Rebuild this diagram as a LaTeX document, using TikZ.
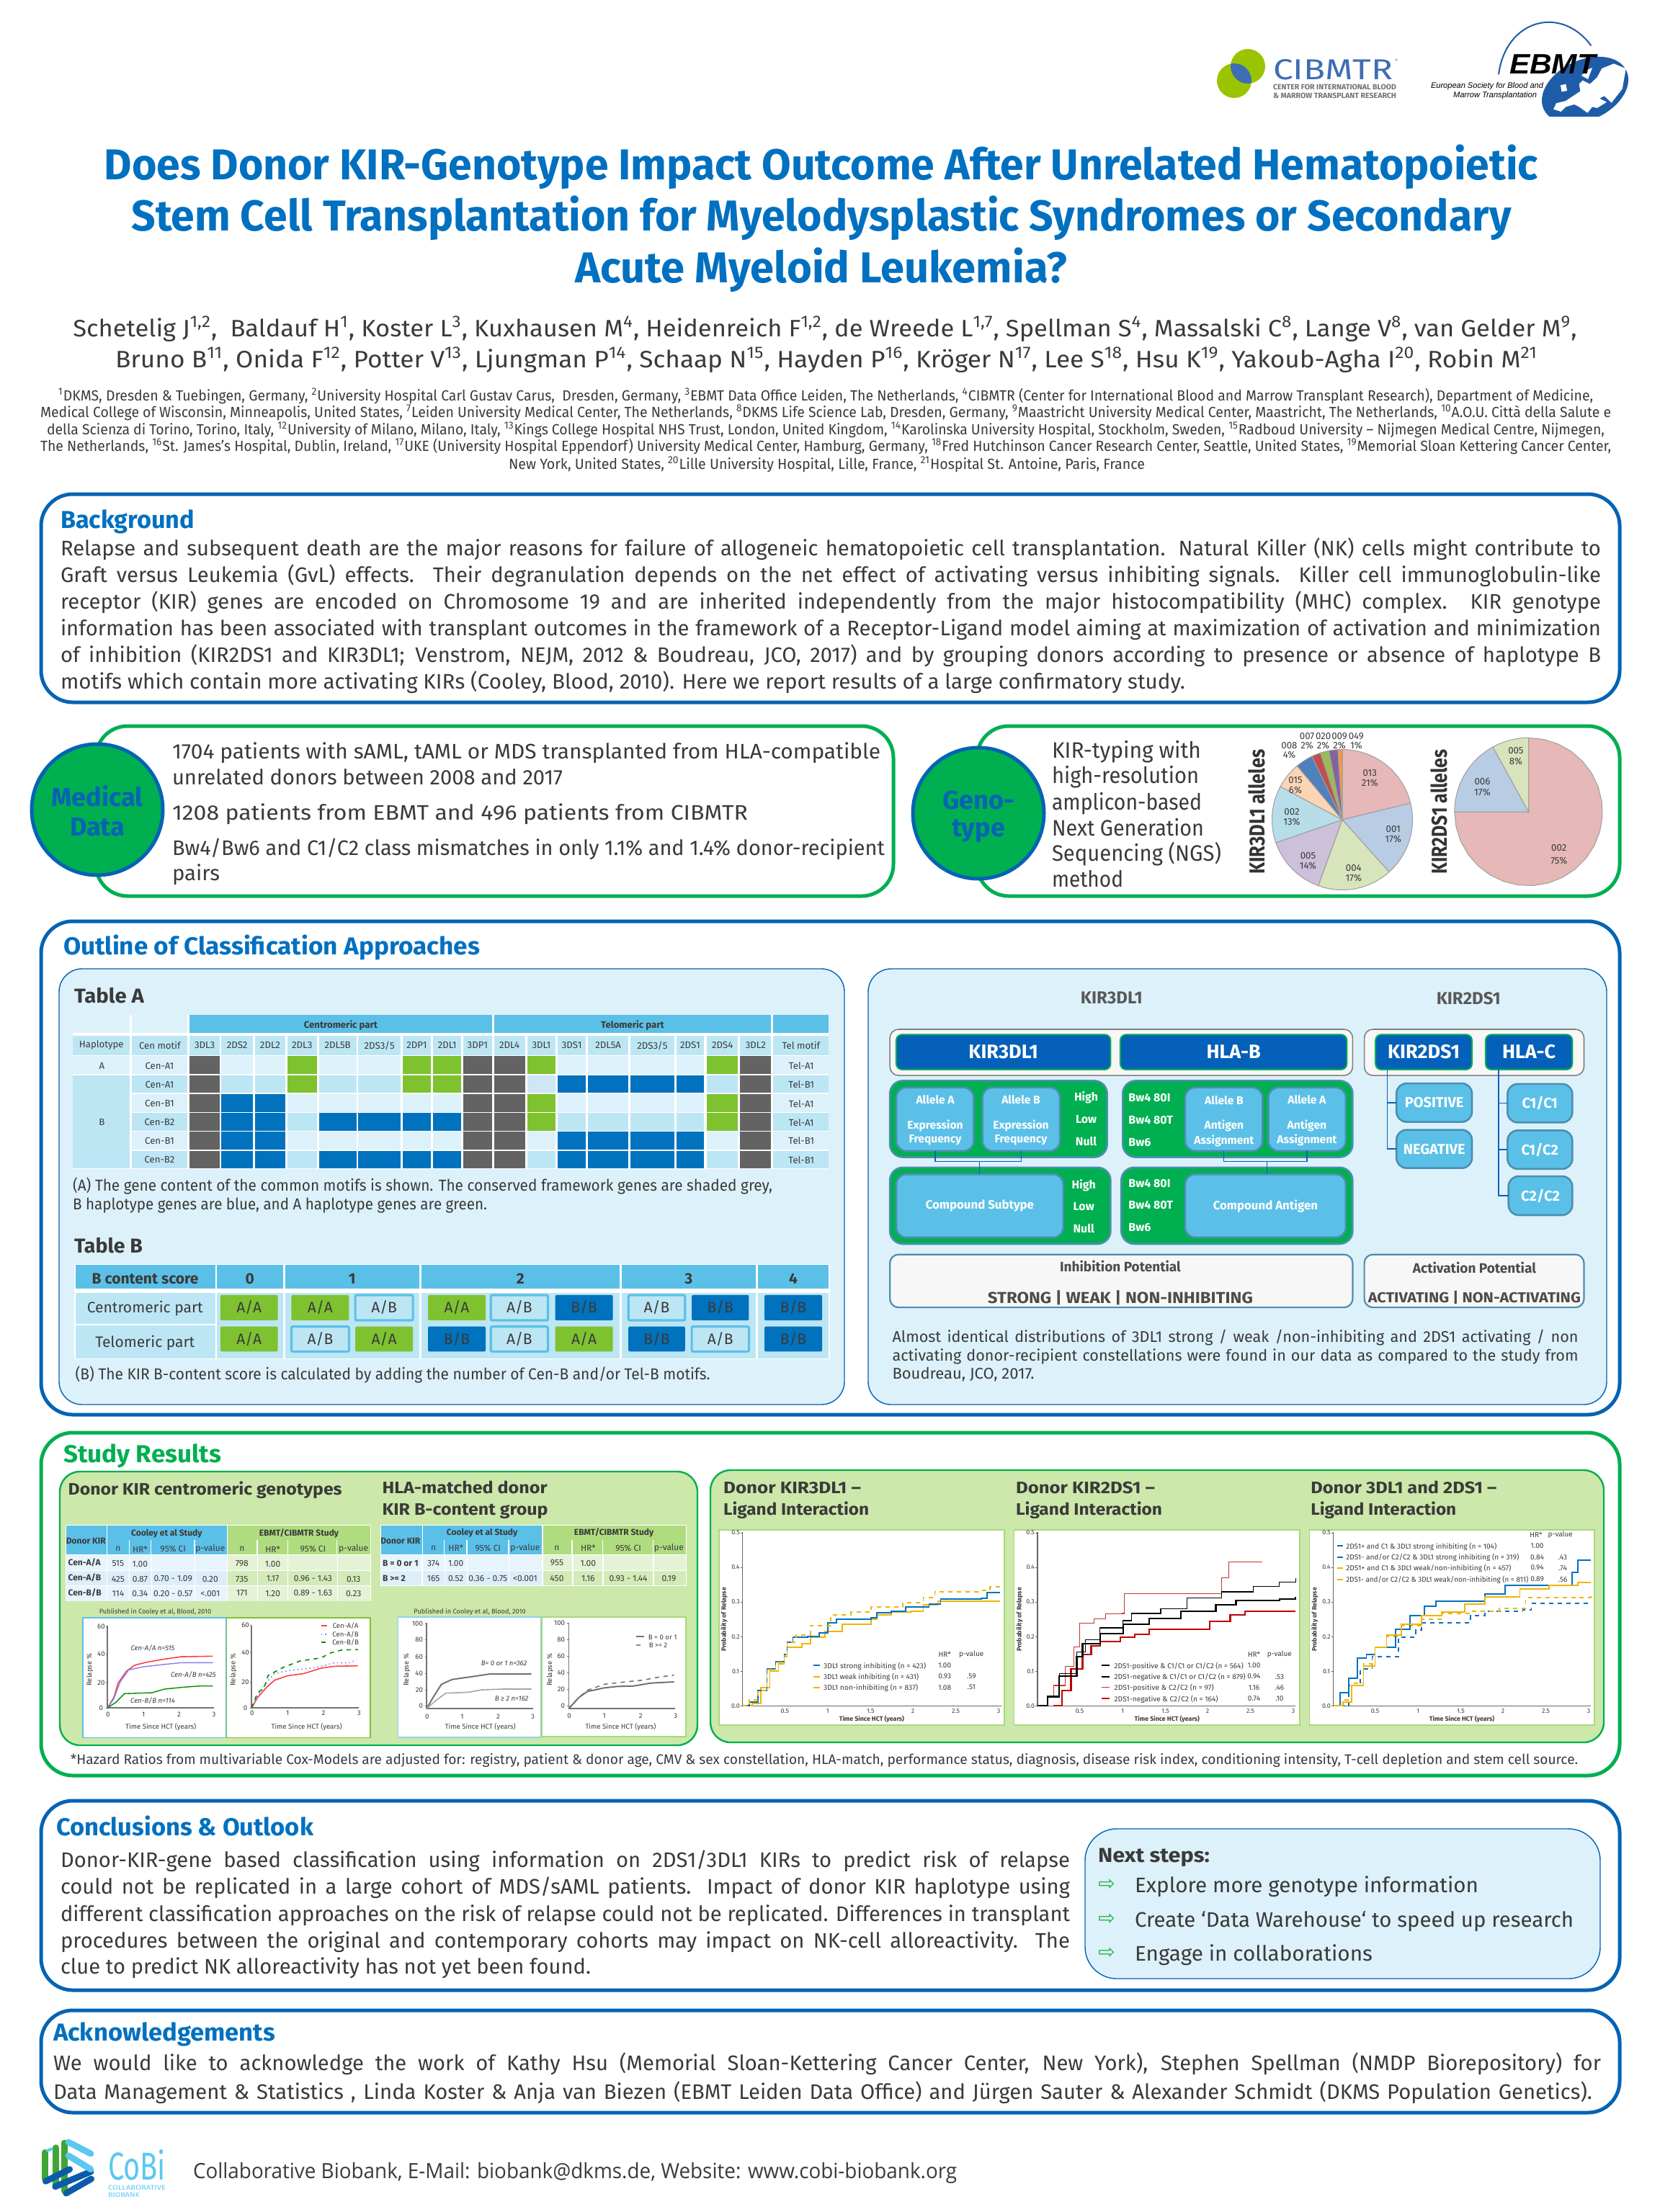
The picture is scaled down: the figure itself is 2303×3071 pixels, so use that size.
\documentclass[tikz,border=0pt]{standalone}
\usepackage{fontspec}
\setmainfont{Fira Sans}
\newfontfamily\ofont{Open Sans}
\newfontfamily\lfont{Liberation Sans}
\newfontfamily\dfont{DejaVu Sans}
\usetikzlibrary{fit}
\definecolor{frameblue}{HTML}{0563B5}
\definecolor{tblue}{HTML}{0070C0}
\definecolor{ink}{HTML}{3A3A3A}
\definecolor{fgreen}{HTML}{00AF50}
\definecolor{panel}{HTML}{DDF1FA}
\definecolor{hdr}{HTML}{5BC0E8}
\definecolor{band}{HTML}{BDE6F5}
\definecolor{kG}{HTML}{636363}
\definecolor{kg}{HTML}{7FC230}
\definecolor{kb}{HTML}{0072BE}
\definecolor{kP}{HTML}{CFE6F4}
\definecolor{deep}{HTML}{0460B8}
\definecolor{edge}{HTML}{4A8FB0}
\definecolor{offw}{HTML}{F7F7F7}
\definecolor{study}{HTML}{CCE8AA}
\definecolor{ghdr}{HTML}{B0DC80}
\definecolor{cl1}{HTML}{E8F4FC}
\definecolor{cl2}{HTML}{DCEFF9}
\definecolor{gl1}{HTML}{E5F2D5}
\definecolor{gl2}{HTML}{D3EBB8}
\definecolor{plotedge}{HTML}{A8D878}
\definecolor{cvblue}{HTML}{0070C0}
\definecolor{cvyel}{HTML}{F0B400}
\definecolor{cvred}{HTML}{C0392B}
\definecolor{cvdred}{HTML}{C00000}
\definecolor{lav}{HTML}{8080F0}
\definecolor{logoblue}{HTML}{3F6DB5}
\definecolor{logogreen}{HTML}{9BC400}
\definecolor{ebmtblue}{HTML}{1F5CA8}
\definecolor{cobilight}{HTML}{5BC8F0}
\definecolor{cobigreen}{HTML}{3FA535}
\definecolor{cobidark}{HTML}{0A5CAB}
\definecolor{pa}{HTML}{E6B8B7}
\definecolor{pb}{HTML}{B8CCE4}
\definecolor{pc}{HTML}{D8E4BC}
\definecolor{pd}{HTML}{CCC0DA}
\definecolor{pe}{HTML}{B7DEE8}
\definecolor{pf}{HTML}{FCD5B4}
\definecolor{pg}{HTML}{4F81BD}
\definecolor{ph}{HTML}{C0504D}
\definecolor{pi}{HTML}{9BBB59}
\definecolor{pj}{HTML}{8064A2}
\definecolor{pk}{HTML}{F79646}
\newcount\nn
\newsavebox\fitbox
\newdimen\fitw
\newcommand\su[1]{\textsuperscript{#1}}
\newcommand\fitline[2]{\fitw=#1\relax\sbox\fitbox{#2}\resizebox{\fitw}{\height}{\usebox\fitbox}}
\newcommand\justline[2]{\fitw=#1\relax\sbox\fitbox{#2}\ifdim\wd\fitbox>\fitw\resizebox{\fitw}{\height}{\usebox\fitbox}\else\hbox to \fitw{#2}\fi}
\newcommand\TX[5][]{\global\advance\nn by 1 \node[txt,#1] (t\the\nn) at (#2,#3) {\fontsize{#4}{#4}\selectfont #5};}
\newcommand\FW[6][]{\global\advance\nn by 1 \node[txt,anchor=base west,#1] (t\the\nn) at (#2,#3) {\fontsize{#4}{#4}\selectfont\fitline{\dimexpr #5pt/2\relax}{#6}};}
\newcommand\JL[6][]{\global\advance\nn by 1 \node[txt,anchor=base west,#1] (t\the\nn) at (#2,#3) {\fontsize{#4}{#4}\selectfont\justline{\dimexpr #5pt/2\relax}{#6}};}
\newcommand\BX[7][]{\coordinate (#2-a) at (#3,#4); \coordinate (#2-b) at (#5,#6); \node[fit=(#2-a)(#2-b),inner sep=0pt,outer sep=0pt,#1] (#2) {}; \node[inner sep=0pt,outer sep=0pt,text=white,font=\bfseries] (#2-t) at (#2.center) {#7};}
\newcommand\PIE[6]{\path[fill=#6,pieline] (#1,#2) -- plot[domain=#4:#5,samples=24] ({#1+#3*cos(\x)},{#2+#3*sin(\x)}) -- cycle;}
\newcommand\fs[1]{\fontsize{#1}{#1}\selectfont}
\newcommand\CURVE[2]{\draw[#1] plot[const plot] coordinates {#2};}
\tikzset{
 txt/.style={inner sep=0pt,outer sep=0pt,text=ink,anchor=center},
 mainframe/.style={draw=frameblue,line width=2.5pt,rounded corners=22pt,fill=white},
 greenframe/.style={draw=fgreen,line width=2.5pt,rounded corners=22pt,fill=white},
 pan/.style={draw=frameblue,line width=.7pt,rounded corners=16pt,fill=panel},
 disc/.style={draw=frameblue,line width=2.5pt,fill=fgreen},
 pieline/.style={draw=black!38,line width=.5pt},
 headbox/.style={draw=fgreen,line width=1pt,fill=deep,rounded corners=4pt},
 whitebar/.style={draw=black!50,line width=.8pt,fill=offw,rounded corners=6pt},
 gbox/.style={draw=edge,line width=1.3pt,fill=fgreen,rounded corners=9pt},
 lbox/.style={draw=edge,line width=1.3pt,fill=hdr,rounded corners=7pt},
 potbox/.style={draw=edge,line width=1.1pt,fill=offw,rounded corners=6pt},
 conn/.style={draw=frameblue,line width=.8pt},
 chipA/.style={fill=kg,rounded corners=1pt},
 chipB/.style={fill=kb,rounded corners=1pt},
 chipM/.style={draw=hdr,line width=1.6pt,fill=band,rounded corners=1pt},
 plotbox/.style={draw=plotedge,line width=.8pt,fill=white},
 axisline/.style={draw=black!60,line width=.5pt},
 thinc/.style={line width=.6pt},
 thickc/.style={line width=1.1pt},
 kthin/.style={black,thinc},
 kthick/.style={black,thickc},
 rthin/.style={cvred,thinc},
 rthick/.style={cvdred,thickc},
}
\begin{document}
\begin{tikzpicture}[x=0.5pt,y=-0.5pt]
\useasboundingbox (0,0) rectangle (2303,3071);
\fill[white] (0,0) rectangle (2303,3071);
%% ---------- CIBMTR logo
\begin{scope}
\fill[logogreen] (1732,92) circle[radius=12pt];
\fill[logogreen] (1713,112) circle[radius=12pt];
\begin{scope}
\clip (1732,92) circle[radius=12pt];
\fill[logoblue] (1713,112) circle[radius=12pt];
\end{scope}
\end{scope}
\FW[text=logoblue]{1767}{111}{20}{166}{CIBMTR}
\TX[text=logoblue]{1938}{84}{3}{®}
\FW[text=black!55]{1767}{125}{5.2}{171}{\bfseries CENTER FOR INTERNATIONAL BLOOD}
\FW[text=black!55]{1767}{137}{5.2}{171}{\bfseries \& MARROW TRANSPLANT RESEARCH}
%% ---------- EBMT logo
\begin{scope}[shift={(2060,20)}]
\begin{scope}[x=0.16667pt,y=-0.16667pt]
\draw[ebmtblue,line width=1pt] (60,250) .. controls (90,20) and (320,-40) .. (445,130);
\clip (200,150) rectangle (620,425);
\fill[ebmtblue] plot[domain=0:360,samples=60] ({420+190*cos(\x)*cos(25)+125*sin(\x)*sin(25)},{315-190*cos(\x)*sin(25)+125*sin(\x)*cos(25)}) -- cycle;
\fill[white] (590,226) -- (540,205) -- (490,225) -- (470,262) -- (440,290) -- (410,275) -- (395,290) -- (400,320) -- (370,340) -- (340,360) -- (300,370) -- (288,395) -- (320,405) -- (340,385) -- (375,375) -- (395,385) -- (430,410) -- (450,385) -- (470,390) -- (510,365) -- (480,350) -- (500,340) -- (530,368) -- (575,310) -- cycle;
\fill[white] (425,232) -- (450,222) -- (432,270) -- (405,255) -- cycle;
\fill[white] (318,295) -- (340,290) -- (345,318) -- (322,322) -- cycle;
\end{scope}
\end{scope}
\FW[text=black]{2095}{103}{19.5}{120}{\lfont\bfseries\itshape EBMT}
\FW[text=black]{1986}{123}{5.6}{156}{\lfont\itshape European Society for Blood and}
\FW[text=black]{2017}{136}{5.6}{116}{\lfont\itshape Marrow Transplantation}
%% ---------- title
\FW[text=tblue,anchor=base]{1140}{250}{30}{1990}{\bfseries Does Donor KIR-Genotype Impact Outcome After Unrelated Hematopoietic}
\FW[text=tblue,anchor=base]{1140}{321}{30}{1915}{\bfseries Stem Cell Transplantation for Myelodysplastic Syndromes or Secondary}
\FW[text=tblue,anchor=base]{1140}{393}{30}{683}{\bfseries Acute Myeloid Leukemia?}
%% ---------- authors
\FW[anchor=base]{1145}{467}{16.5}{2087}{Schetelig J\su{1,2},\ \ Baldauf H\su{1}, Koster L\su{3}, Kuxhausen M\su{4}, Heidenreich F\su{1,2}, de Wreede L\su{1,7}, Spellman S\su{4}, Massalski C\su{8}, Lange V\su{8}, van Gelder M\su{9},}
\FW[anchor=base]{1147}{510}{16.5}{1974}{Bruno B\su{11}, Onida F\su{12}, Potter V\su{13}, Ljungman P\su{14}, Schaap N\su{15}, Hayden P\su{16}, Kröger N\su{17}, Lee S\su{18}, Hsu K\su{19}, Yakoub-Agha I\su{20}, Robin M\su{21}}
\FW{81}{556}{10.2}{2130}{\su{1}DKMS, Dresden \& Tuebingen, Germany, \su{2}University Hospital Carl Gustav Carus,\ \ Dresden, Germany, \su{3}EBMT Data Office Leiden, The Netherlands, \su{4}CIBMTR (Center for International Blood and Marrow Transplant Research), Department of Medicine,}
\FW{56}{579}{10.2}{2180}{Medical College of Wisconsin, Minneapolis, United States, \su{7}Leiden University Medical Center, The Netherlands, \su{8}DKMS Life Science Lab, Dresden, Germany, \su{9}Maastricht University Medical Center, Maastricht, The Netherlands, \su{10}A.O.U. Città della Salute e}
\FW{65}{603}{10.2}{2162}{della Scienza di Torino, Torino, Italy, \su{12}University of Milano, Milano, Italy, \su{13}Kings College Hospital NHS Trust, London, United Kingdom, \su{14}Karolinska University Hospital, Stockholm, Sweden, \su{15}Radboud University – Nijmegen Medical Centre, Nijmegen,}
\FW{56}{626}{10.2}{2180}{The Netherlands, \su{16}St. James's Hospital, Dublin, Ireland, \su{17}UKE (University Hospital Eppendorf) University Medical Center, Hamburg, Germany, \su{18}Fred Hutchinson Cancer Research Center, Seattle, United States, \su{19}Memorial Sloan Kettering Cancer Center,}
\FW{706}{651}{10.2}{883}{New York, United States, \su{20}Lille University Hospital, Lille, France, \su{21}Hospital St. Antoine, Paris, France}
%% ---------- background
\draw[mainframe] (57,686) rectangle (2248,975);
\FW[text=tblue]{84}{733}{17}{186}{\bfseries Background}
\JL{84}{771}{14.6}{2138}{Relapse and subsequent death are the major reasons for failure of allogeneic hematopoietic cell transplantation. Natural Killer (NK) cells might contribute to}
\JL{84}{808}{14.6}{2138}{Graft versus Leukemia (GvL) effects. Their degranulation depends on the net effect of activating versus inhibiting signals. Killer cell immunoglobulin-like}
\JL{84}{845}{14.6}{2138}{receptor (KIR) genes are encoded on Chromosome 19 and are inherited independently from the major histocompatibility (MHC) complex. KIR genotype}
\JL{84}{882}{14.6}{2138}{information has been associated with transplant outcomes in the framework of a Receptor-Ligand model aiming at maximization of activation and minimization}
\JL{84}{919}{14.6}{2138}{of inhibition (KIR2DS1 and KIR3DL1; Venstrom, NEJM, 2012 \& Boudreau, JCO, 2017) and by grouping donors according to presence or absence of haplotype B}
\FW{84}{956}{14.6}{1561}{motifs which contain more activating KIRs (Cooley, Blood, 2010). Here we report results of a large confirmatory study.}
%% ---------- medical data
\draw[greenframe] (133,1008) rectangle (1240,1244);
\node[disc,circle,minimum size=91pt,inner sep=0pt] (meddisc) at (135,1124) {};
\TX[text=frameblue]{135}{1105}{18}{\bfseries Medical}
\TX[text=frameblue]{135}{1148}{18}{\bfseries Data}
\FW{239}{1053}{14.6}{983}{1704 patients with sAML, tAML or MDS transplanted from HLA-compatible}
\FW{239}{1089}{14.6}{542}{unrelated donors between 2008 and 2017}
\FW{239}{1138}{14.6}{799}{1208 patients from EBMT and 496 patients from CIBMTR}
\FW{239}{1187}{14.6}{989}{Bw4/Bw6 and C1/C2 class mismatches in only 1.1\% and 1.4\% donor-recipient}
\FW{239}{1222}{14.6}{66}{pairs}
%% ---------- genotype
\draw[greenframe] (1356,1008) rectangle (2248,1244);
\node[disc,circle,minimum size=91pt,inner sep=0pt] (gendisc) at (1358,1129) {};
\TX[text=frameblue]{1358}{1111}{18}{\bfseries Geno-}
\TX[text=frameblue]{1358}{1154}{18}{\bfseries type}
\FW{1460}{1052}{15.5}{207}{KIR-typing with}
\FW{1460}{1087}{15.5}{204}{high-resolution}
\FW{1460}{1124}{15.5}{208}{amplicon-based}
\FW{1460}{1160}{15.5}{211}{Next Generation}
\FW{1460}{1195}{15.5}{235}{Sequencing (NGS)}
\FW{1460}{1231}{15.5}{99}{method}
\FW[rotate=90,anchor=base,text=black!80]{1755}{1127}{15}{173}{\bfseries KIR3DL1 alleles}
\FW[rotate=90,anchor=base,text=black!80]{2008}{1127}{15}{173}{\bfseries KIR2DS1 alleles}
\PIE{1863}{1138}{97.5}{-90}{-13.64}{pa}
\PIE{1863}{1138}{97.5}{-13.64}{48.18}{pb}
\PIE{1863}{1138}{97.5}{48.18}{110}{pc}
\PIE{1863}{1138}{97.5}{110}{160.9}{pd}
\PIE{1863}{1138}{97.5}{160.9}{208.2}{pe}
\PIE{1863}{1138}{97.5}{208.2}{230}{pf}
\PIE{1863}{1138}{97.5}{230}{244.5}{pg}
\PIE{1863}{1138}{97.5}{244.5}{251.8}{ph}
\PIE{1863}{1138}{97.5}{251.8}{259.1}{pi}
\PIE{1863}{1138}{97.5}{259.1}{266.4}{pj}
\PIE{1863}{1138}{97.5}{266.4}{270}{pk}
\PIE{2121.5}{1127}{102.7}{-90}{180}{pa}
\PIE{2121.5}{1127}{102.7}{180}{241.2}{pb}
\PIE{2121.5}{1127}{102.7}{241.2}{270}{pc}
\begin{scope}[shift={(1200,1000)}]
\begin{scope}[x=0.35172pt,y=-0.16667pt]
\foreach \px/\py/\pz/\la/\lb in {997/218/262/013/21\%,1043/452/494/001/17\%,965/615/658/004/17\%,875/565/606/005/14\%,843/381/424/002/13\%,850/250/290/015/6\%,838/105/143/008/4\%,873/66/104/007/2\%,905/66/104/020/2\%,937/66/104/009/2\%,970/66/104/049/1\%,1285/127/172/005/8\%,1219/255/299/006/17\%,1370/532/586/002/75\%}{
 \TX{\px}{\py}{6.6}{\la}
 \TX{\px}{\pz}{6.6}{\lb}
}
\end{scope}
\end{scope}
%% ---------- outline frame
\draw[mainframe] (57,1279) rectangle (2248,1964);
\FW[text=tblue]{88}{1325}{17}{578}{\bfseries Outline of Classification Approaches}
\draw[pan] (82,1345) rectangle (1172,1950);
\draw[pan] (1205,1345) rectangle (2230,1950);
%% ---------- Table A
\FW{103}{1392}{14}{97}{\bfseries Table A}
\FW{103}{1739}{14}{95}{\bfseries Table B}
\begin{scope}[shift={(60,1340)}]
\begin{scope}[x=0.36034pt,y=-0.20408pt]
\fill[white] (57,168) rectangle (1513,694);
\fill[panel] (57,170) rectangle (167,230);
\fill[panel] (171,170) rectangle (278,230);
\fill[hdr] (282,170) rectangle (864,230);
\fill[hdr] (868,170) rectangle (1402,230);
\fill[hdr] (1406,170) rectangle (1513,230);
\TX{573}{206}{6.6}{\bfseries Centromeric part}
\TX{1135}{206}{6.6}{\bfseries Telomeric part}
\foreach \a/\b/\l in {57/167/Haplotype,171/278/Cen motif,282/340/3DL3,343/404/2DS2,408/466/2DL2,470/527/2DL3,531/603/2DL5B,607/688/2DS3\slash 5,692/747/2DP1,751/805/2DL1,809/864/3DP1,868/928/2DL4,932/987/3DL1,991/1045/3DS1,1049/1127/2DL5A,1131/1215/2DS3\slash 5,1219/1273/2DS1,1278/1338/2DS4,1342/1402/3DL2,1406/1513/Tel motif}{
 \fill[band] (\a,240) rectangle (\b,305);
 \pgfmathsetmacro\mid{(\a+\b)/2}
 \TX{\mid}{273}{6.6}{\l}
}
\foreach \ya/\yb/\bs/\row in {
 309/370/panel/{G,N,N,g,N,N,g,g,G,G,g,N,N,N,N,g,G},
 374/434/band/{G,N,N,g,N,N,g,g,G,G,P,b,b,b,b,N,G},
 438/499/panel/{G,b,b,N,N,N,N,N,G,G,g,N,N,N,N,g,G},
 503/563/band/{G,b,b,N,b,b,b,b,G,G,g,N,N,N,N,g,G},
 567/628/panel/{G,b,b,N,N,N,N,N,G,G,N,b,b,b,b,N,G},
 632/692/band/{G,b,b,N,b,b,b,b,G,G,N,b,b,b,b,N,G}}{
 \colorlet{kN}{\bs}
 \fill[kN] (171,\ya) rectangle (278,\yb);
 \fill[kN] (1406,\ya) rectangle (1513,\yb);
 \foreach \c [count=\i from 0] in \row {
  \pgfmathsetmacro\xa{{282,343,408,470,531,607,692,751,809,868,932,991,1049,1131,1219,1278,1342}[\i]}
  \pgfmathsetmacro\xb{{340,404,466,527,603,688,747,805,864,928,987,1045,1127,1215,1273,1338,1402}[\i]}
  \fill[k\c] (\xa,\ya) rectangle (\xb,\yb);
 }
}
\fill[panel] (57,309) rectangle (167,370);
\fill[band] (57,374) rectangle (167,692);
\TX{113}{342}{6.6}{A}
\TX{113}{535}{6.6}{B}
\foreach \y/\a/\b in {342/Cen-A1/Tel-A1,406/Cen-A1/Tel-B1,471/Cen-B1/Tel-A1,535/Cen-B2/Tel-A1,598/Cen-B1/Tel-B1,662/Cen-B2/Tel-B1}{
 \TX{224}{\y}{6.6}{\a}
 \TX{1460}{\y}{6.6}{\b}
}
\FW{57}{767}{11}{971}{(A) The gene content of the common motifs is shown. The conserved framework genes are shaded grey,}
\FW{57}{832}{11}{575}{B haplotype genes are blue, and A haplotype genes are green.}
%% Table B
\fill[white] (60,1016) rectangle (1515,1340);
\foreach \a/\b/\l in {62/331/B content score,334/462/0,466/724/1,728/1110/2,1114/1372/3,1376/1513/4}{
 \fill[hdr] (\a,1018) rectangle (\b,1100);
 \pgfmathsetmacro\mid{(\a+\b)/2}
 \TX{\mid}{1066}{10.5}{\bfseries \l}
}
\foreach \a/\b in {62/331,334/462,466/724,728/1110,1114/1372,1376/1513}{
 \fill[band] (\a,1114) rectangle (\b,1338);
}
\fill[white] (62,1221) rectangle (331,1226);
\TX{196}{1168}{10.5}{Centromeric part}
\TX{196}{1285}{10.5}{Telomeric part}
\foreach \a/\b/\s/\l in {341/452/chipA/A\slash A,478/589/chipA/A\slash A,601/712/chipM/A\slash B,741/852/chipA/A\slash A,862/972/chipM/A\slash B,986/1097/chipB/B\slash B,1127/1236/chipM/A\slash B,1249/1359/chipB/B\slash B,1389/1500/chipB/B\slash B}{
 \path[\s] (\a,1122) rectangle (\b,1208);
 \pgfmathsetmacro\mid{(\a+\b)/2}
 \TX{\mid}{1165}{10.5}{\l}
}
\foreach \a/\b/\s/\l in {341/452/chipA/A\slash A,478/589/chipM/A\slash B,601/712/chipA/A\slash A,741/852/chipB/B\slash B,862/972/chipM/A\slash B,986/1097/chipA/A\slash A,1127/1236/chipB/B\slash B,1249/1359/chipM/A\slash B,1389/1500/chipB/B\slash B}{
 \path[\s] (\a,1229) rectangle (\b,1314);
 \pgfmathsetmacro\mid{(\a+\b)/2}
 \TX{\mid}{1271}{10.5}{\l}
}
\FW{62}{1410}{11}{881}{(B) The KIR B-content score is calculated by adding the number of Cen-B and/or Tel-B motifs.}
\end{scope}
\end{scope}
%% ---------- KIR diagram
\begin{scope}[shift={(1200,1340)}]
\begin{scope}[x=0.33802pt,y=-0.20408pt]
\TX[text=black!65]{507}{112}{12}{\bfseries KIR3DL1}
\TX[text=black!65]{1240}{112}{12}{\bfseries KIR2DS1}
\BX[whitebar]{barL}{52}{218}{1002}{375}{}
\BX[whitebar]{barR}{1026}{218}{1477}{375}{}
\BX[headbox]{kir3}{65}{236}{505}{355}{\fs{13.5}KIR3DL1}
\BX[headbox]{hlab}{525}{236}{990}{355}{\fs{13.5}HLA-B}
\BX[headbox]{kir2}{1049}{236}{1247}{355}{\fs{13.5}KIR2DS1}
\BX[headbox]{hlac}{1275}{236}{1453}{355}{\fs{13.5}HLA-C}
\BX[gbox]{g1}{52}{393}{498}{653}{}
\BX[gbox]{g2}{530}{393}{1002}{653}{}
\BX[gbox]{g3}{52}{688}{505}{948}{}
\BX[gbox]{g4}{527}{688}{1002}{948}{}
\BX[lbox]{alA}{65}{416}{224}{632}{}
\BX[lbox]{alB}{242}{416}{401}{632}{}
\BX[lbox]{abB}{658}{416}{817}{632}{}
\BX[lbox]{abA}{829}{416}{988}{632}{}
\BX[lbox]{cs}{65}{711}{408}{926}{\fs{8.4}Compound Subtype}
\BX[lbox]{ca}{658}{711}{988}{926}{\fs{8.4}Compound Antigen}
\coordinate (brkL) at (236,668);
\coordinate (brkR) at (826,668);
\draw[conn] (alA.south) |- (brkL) -| (alB.south);
\draw[conn] (brkL) -- (cs.north -| brkL);
\draw[conn] (abB.south) |- (brkR) -| (abA.south);
\draw[conn] (brkR) -- (ca.north -| brkR);
\foreach \x/\a/\b/\ya/\yb/\yc in {145/Allele A/Expression/457/545/595,321/Allele B/Expression/457/545/595,738/Allele B/Antigen/459/547/597,908/Allele A/Antigen/457/545/595}{
 \TX[text=white]{\x}{\ya}{7.8}{\bfseries \a}
 \TX[text=white]{\x}{\yb}{7.8}{\bfseries \b}
}
\foreach \x/\y in {145/595,321/595}{\TX[text=white]{\x}{\y}{7.8}{\bfseries Frequency}}
\foreach \x/\y in {738/597,908/595}{\TX[text=white]{\x}{\y}{7.8}{\bfseries Assignment}}
\foreach \y/\l in {450/High,524/Low,598/Null}{\TX[text=white]{455}{\y}{8}{\bfseries \l}}
\foreach \y/\l in {748/High,822/Low,896/Null}{\TX[text=white]{450}{\y}{8}{\bfseries \l}}
\foreach \y/\l in {452/Bw4 80I,527/Bw4 80T,602/Bw6,742/Bw4 80I,817/Bw4 80T,892/Bw6}{\TX[text=white,anchor=west]{542}{\y}{8}{\bfseries \l}}
\BX[lbox]{pos}{1092}{402}{1247}{533}{\fs{10}POSITIVE}
\BX[lbox]{neg}{1092}{560}{1247}{690}{\fs{10}NEGATIVE}
\BX[lbox]{cc1}{1320}{404}{1453}{535}{\fs{10}C1/C1}
\BX[lbox]{cc2}{1320}{562}{1453}{693}{\fs{10}C1/C2}
\BX[lbox]{cc3}{1322}{718}{1453}{850}{\fs{10}C2/C2}
\coordinate (kbus) at (1073,355);
\coordinate (hbus) at (1302,355);
\draw[conn] (kbus) |- (pos.west);
\draw[conn] (kbus) |- (neg.west);
\draw[conn] (hbus) |- (cc1.west);
\draw[conn] (hbus) |- (cc2.west);
\draw[conn] (hbus) |- (cc3.west);
\BX[potbox]{inh}{52}{984}{1002}{1164}{}
\BX[potbox]{act}{1026}{984}{1477}{1164}{}
\TX[text=black!70]{525}{1025}{9.5}{\bfseries Inhibition Potential}
\FW[text=black!70,anchor=base]{525}{1150}{11}{368}{\bfseries STRONG | WEAK | NON-INHIBITING}
\TX[text=black!70]{1252}{1030}{9.5}{\bfseries Activation Potential}
\FW[text=black!70,anchor=base]{1252}{1148}{10}{295}{\bfseries ACTIVATING | NON-ACTIVATING}
\JL{57}{1282}{10.8}{952}{Almost identical distributions of 3DL1 strong / weak /non-inhibiting and 2DS1 activating / non}
\JL{57}{1345}{10.8}{952}{activating donor-recipient constellations were found in our data as compared to the study from}
\FW{57}{1408}{10.8}{197}{Boudreau, JCO, 2017.}
\end{scope}
\end{scope}
%% ---------- study results
\draw[greenframe] (57,1989) rectangle (2248,2465);
\FW[text=fgreen]{88}{2030}{17}{219}{\bfseries Study Results}
\draw[draw=fgreen,line width=1.2pt,fill=study,rounded corners=14pt] (83,2043) rectangle (968,2423);
\draw[draw=fgreen,line width=1.2pt,fill=study,rounded corners=14pt] (986,2041) rectangle (2226,2419);
\FW[anchor=base]{1144}{2449}{9.6}{2092}{*Hazard Ratios from multivariable Cox-Models are adjusted for: registry, patient \& donor age, CMV \& sex constellation, HLA-match, performance status, diagnosis, disease risk index, conditioning intensity, T-cell depletion and stem cell source.}
%% left panel
\begin{scope}[shift={(70,2040)}]
\begin{scope}[x=0.29338pt,y=-0.16667pt]
\FW{42}{105}{11.5}{380}{\bfseries Donor KIR centromeric genotypes}
\FW{785}{100}{11.5}{229}{\bfseries HLA-matched donor}
\FW{785}{190}{11.5}{230}{\bfseries KIR B-content group}
%% table 1
\fill[white] (35,232) rectangle (759,550);
\fill[hdr] (37,235) rectangle (417,355);
\fill[ghdr] (419,235) rectangle (757,355);
\foreach \x in {186,238,341,489,561,678}{\draw[white,line width=.6pt] (\x,295) -- (\x,355);}
\draw[white,line width=.6pt] (134,235) -- (134,355);
\foreach \ya/\yb/\cc/\gg in {358/420/cl1/gl1,423/483/cl2/gl2,486/548/cl1/gl1}{
 \foreach \a/\b in {37/133,135/186,188/238,240/341,343/417}{\fill[\cc] (\a,\ya) rectangle (\b,\yb);}
 \foreach \a/\b in {419/489,491/561,563/678,680/757}{\fill[\gg] (\a,\ya) rectangle (\b,\yb);}
}
\TX{84}{298}{6}{\bfseries Donor KIR}
\TX{275}{268}{6}{\bfseries Cooley et al Study}
\TX{588}{268}{6}{\bfseries EBMT/CIBMTR Study}
\foreach \x/\l in {160/n,212/HR*,290/95\% CI,378/p-value,453/n,526/HR*,621/95\% CI,717/p-value}{\TX{\x}{332}{6}{\l}}
\TX[anchor=west]{42}{388}{6}{\bfseries Cen-A/A}
\TX[anchor=west]{42}{452}{6}{\bfseries Cen-A/B}
\TX[anchor=west]{42}{514}{6}{\bfseries Cen-B/B}
\foreach \x/\l in {160/515,212/1.00,453/798,526/1.00}{\TX{\x}{393}{6}{\l}}
\foreach \x/\l in {160/425,212/0.87,290/0.70 - 1.09,378/0.20,453/735,526/1.17,621/0.96 - 1.43,717/0.13}{\TX{\x}{456}{6}{\l}}
\foreach \x/\l in {160/114,212/0.34,290/0.20 - 0.57,378/<.001,453/171,526/1.20,621/0.89 - 1.63,717/0.23}{\TX{\x}{516}{6}{\l}}
%% table 2
\fill[white] (780,232) rectangle (1505,486);
\fill[hdr] (782,235) rectangle (1162,355);
\fill[ghdr] (1165,235) rectangle (1503,355);
\foreach \x in {932,985,1084,1234,1306,1425}{\draw[white,line width=.6pt] (\x,295) -- (\x,355);}
\draw[white,line width=.6pt] (880,235) -- (880,355);
\foreach \ya/\yb/\cc/\gg in {358/420/cl1/gl1,423/484/cl2/gl2}{
 \foreach \a/\b in {782/878,881/932,934/985,987/1084,1086/1162}{\fill[\cc] (\a,\ya) rectangle (\b,\yb);}
 \foreach \a/\b in {1165/1234,1237/1306,1309/1425,1428/1503}{\fill[\gg] (\a,\ya) rectangle (\b,\yb);}
}
\TX{828}{298}{6}{\bfseries Donor KIR}
\TX{1021}{265}{6}{\bfseries Cooley et al Study}
\TX{1333}{265}{6}{\bfseries EBMT/CIBMTR Study}
\foreach \x/\l in {906/n,959/HR*,1035/95\% CI,1123/p-value,1198/n,1272/HR*,1367/95\% CI,1463/p-value}{\TX{\x}{328}{6}{\l}}
\TX[anchor=west]{786}{390}{6}{\bfseries B = 0 or 1}
\TX[anchor=west]{786}{454}{6}{\bfseries B >= 2}
\foreach \x/\l in {906/374,959/1.00,1198/955,1272/1.00}{\TX{\x}{390}{6}{\l}}
\foreach \x/\l in {906/165,959/0.52,1035/0.36 - 0.75,1123/<0.001,1198/450,1272/1.16,1367/0.93 - 1.44,1463/0.19}{\TX{\x}{454}{6}{\l}}
\TX{248}{595}{4.6}{Published in Cooley et al, Blood, 2010}
\TX{992}{595}{4.6}{Published in Cooley et al, Blood, 2010}
%% chart frames
\path[plotbox,draw=hdr] (77,617) rectangle (416,1117);
\path[plotbox,draw=kg] (417,617) rectangle (757,1117);
\path[plotbox,draw=hdr!70] (822,615) rectangle (1161,1115);
\path[plotbox] (1162,615) rectangle (1503,1113);
%% chart A
\draw[axisline,line width=1pt,black!55] (135,650) -- (135,993) -- (387,993);
\foreach \y/\l in {995/0,888/20,768/40,656/60}{\TX{120}{\y}{4.8}{\l}\draw[axisline] (131,\y) -- (135,\y);}
\foreach \x/\l in {136/0,220/1,304/2,387/3}{\TX{\x}{1020}{4.8}{\l}}
\TX[rotate=90]{93}{835}{4.8}{Relapse \%}
\TX{261}{1071}{4.8}{Time Since HCT (years)}
\draw[red!75,line width=.8pt] (135,993) -- (150,950) -- (160,890) -- (180,840) -- (200,815) -- (230,802) -- (270,790) -- (310,780) -- (384,778);
\draw[lav,line width=.7pt] (135,993) -- (150,955) -- (165,885) -- (185,835) -- (220,822) -- (270,812) -- (310,805) -- (384,805);
\draw[green!55!black,line width=.7pt] (135,993) -- (155,970) -- (175,934) -- (240,930) -- (270,915) -- (315,907) -- (355,902) -- (384,902);
\TX{242}{744}{4.8}{\itshape Cen-A/A n=515}
\TX{338}{855}{4.8}{\itshape Cen-A/B n=425}
\TX{242}{963}{4.8}{\itshape Cen-B/B n=114}
%% chart B
\draw[axisline,line width=1pt,black!55] (476,650) -- (476,993) -- (730,993);
\foreach \y/\l in {995/0,886/20,763/40,650/60}{\TX{461}{\y}{4.8}{\l}\draw[axisline] (472,\y) -- (476,\y);}
\foreach \x/\l in {477/0,561/1,646/2,730/3}{\TX{\x}{1016}{4.8}{\l}}
\TX[rotate=90]{433}{835}{4.8}{Relapse \%}
\TX{606}{1071}{4.8}{Time Since HCT (years)}
\draw[red!75,line width=.8pt] (476,993) -- (490,950) -- (510,910) -- (530,878) -- (560,860) -- (600,850) -- (640,828) -- (670,820) -- (727,818);
\draw[lav,line width=.8pt,dotted] (476,993) -- (490,945) -- (512,885) -- (530,850) -- (565,838) -- (630,825) -- (670,806) -- (710,805) -- (724,792);
\draw[green!55!black,line width=.8pt,dashed] (476,993) -- (490,930) -- (505,912) -- (515,858) -- (550,825) -- (590,798) -- (640,785) -- (665,763) -- (690,752) -- (727,750);
\draw[red!75,line width=.8pt] (640,650) -- (655,650);
\draw[lav,line width=.8pt,dotted] (640,686) -- (655,686);
\draw[green!55!black,line width=.8pt,dashed] (640,720) -- (655,720);
\TX{698}{651}{4.8}{Cen-A/A}
\TX{698}{687}{4.8}{Cen-A/B}
\TX{698}{720}{4.8}{Cen-B/B}
%% chart C
\draw[axisline,line width=.8pt,black!55] (890,640) -- (890,996) -- (1142,996);
\foreach \y/\l in {985/0,918/20,850/40,780/60,710/80,642/100}{\TX[anchor=east]{881}{\y}{4.8}{\l}\draw[axisline] (886,\y) -- (890,\y);}
\foreach \x/\l in {891/0,974/1,1059/2,1141/3}{\TX{\x}{1030}{4.8}{\l}}
\TX[rotate=90]{843}{835}{4.8}{Relapse \%}
\TX{1017}{1071}{4.8}{Time Since HCT (years)}
\draw[black!55,line width=1pt] (890,996) -- (905,950) -- (925,895) -- (950,875) -- (990,865) -- (1040,852) -- (1138,852);
\draw[black!35,line width=.8pt] (890,996) -- (910,965) -- (935,932) -- (990,928) -- (1020,918) -- (1070,915) -- (1138,915);
\TX{1073}{808}{4.8}{\itshape B= 0 or 1 n=362}
\TX{1091}{955}{4.8}{\itshape B ≥ 2 n=162}
%% chart D
\draw[axisline,line width=.8pt,black!55] (1226,640) -- (1226,996) -- (1478,996);
\foreach \y/\l in {985/0,916/20,848/40,778/60,708/80,640/100}{\TX[anchor=east]{1217}{\y}{4.8}{\l}\draw[axisline] (1222,\y) -- (1226,\y);}
\foreach \x/\l in {1227/0,1310/1,1396/2,1479/3}{\TX{\x}{1026}{4.8}{\l}}
\TX[rotate=90]{1182}{835}{4.8}{Relapse \%}
\TX{1349}{1071}{4.8}{Time Since HCT (years)}
\draw[black!55,line width=1pt] (1226,996) -- (1250,950) -- (1270,925) -- (1310,910) -- (1340,904) -- (1380,902) -- (1420,890) -- (1475,885);
\draw[black!55,line width=.8pt,dashed] (1226,996) -- (1250,950) -- (1270,920) -- (1310,895) -- (1360,885) -- (1400,878) -- (1440,865) -- (1475,857);
\draw[black!55,line width=1pt] (1385,697) -- (1405,697);
\draw[black!45,line width=.8pt,dashed] (1385,732) -- (1405,732);
\TX{1448}{699}{4.8}{B = 0 or 1}
\TX[anchor=west]{1416}{732}{4.8}{B >= 2}
\end{scope}
\end{scope}
%% right panel
\begin{scope}[shift={(980,2040)}]
\begin{scope}[x=0.40193pt,y=-0.16667pt]
\FW{30}{100}{11.5}{191}{\bfseries Donor KIR3DL1 –}
\FW{30}{190}{11.5}{202}{\bfseries Ligand Interaction}
\FW{535}{100}{11.5}{193}{\bfseries Donor KIR2DS1 –}
\FW{535}{190}{11.5}{203}{\bfseries Ligand Interaction}
\FW{1044}{100}{11.5}{258}{\bfseries Donor 3DL1 and 2DS1 –}
\FW{1044}{190}{11.5}{202}{\bfseries Ligand Interaction}
\foreach \a/\b in {22/515,532/1025,1042/1534}{\path[plotbox] (\a,252) rectangle (\b,1065);}
\foreach \ax/\ex/\yl/\tl in {63/510/31/286,572/1018/541/796,1083/1528/1051/1305}{
 \draw[axisline,line width=.8pt] (\ax,262) -- (\ax,985) -- (\ex,985);
 \foreach \y/\l in {985/0.0,841/0.1,697/0.2,552/0.3,408/0.4,264/0.5}{
  \pgfmathsetmacro\lx{\ax-12}
  \TX{\lx}{\y}{4.4}{\l}
  \pgfmathsetmacro\tx{\ax-3}
  \draw[axisline] (\tx,\y) -- (\ax,\y);
 }
 \TX[rotate=90]{\yl}{625}{4.4}{\bfseries Probability of Relapse}
 \TX{\tl}{1040}{4.4}{\bfseries Time Since HCT (years)}
}
\foreach \off in {0,509,1019}{
 \foreach \x/\l in {136/0.5,210/1,284/1.5,357/2,431/2.5,505/3}{
  \pgfmathsetmacro\px{\x+\off}
  \TX{\px}{1007}{4.4}{\l}
 }
}
%% plot 1 curves
\CURVE{cvyel,line width=.9pt}{(63,985)(80,975)(95,910)(110,840)(125,810)(135,780)(140,740)(165,725)(180,700)(205,675)(235,645)(285,625)(295,605)(320,595)(355,590)(375,565)(400,548)(507,546)}
\CURVE{cvblue,line width=.9pt}{(63,985)(75,970)(90,920)(105,830)(120,800)(135,770)(140,720)(150,700)(175,695)(195,680)(210,640)(225,625)(285,618)(295,597)(320,590)(345,573)(385,562)(405,540)(475,538)(485,512)(507,512)}
\CURVE{cvyel,line width=.9pt,dashed}{(63,985)(75,960)(90,920)(105,835)(120,805)(135,770)(140,720)(155,690)(180,650)(215,605)(250,595)(285,572)(340,555)(375,535)(395,510)(470,505)(490,490)(507,480)}
\TX{412}{770}{5}{HR*}\TX{458}{770}{5}{p-value}
\foreach \y/\s/\ww/\t/\hr/\p in {816/cvblue/142/3DL1 strong inhibiting (n = 423)/1.00/,863/cvyel/132/3DL1 weak inhibiting (n = 431)/0.93/.59,908/cvyel/131/3DL1 non-inhibiting (n = 837)/1.08/.51}{
 \draw[\s,line width=1pt] (185,\y) -- (197,\y);
 \pgfmathsetmacro\bb{\y+12}
 \FW{203}{\bb}{5}{\ww}{\t}
 \TX{412}{\y}{5}{\hr}
 \TX{458}{\y}{5}{\p}
}
%% plot 2 curves
\CURVE{rthin}{(572,985)(590,950)(600,900)(620,820)(635,740)(645,640)(670,622)(690,602)(718,600)(722,517)(880,517)(890,452)(902,386)(960,386)}
\CURVE{rthick}{(600,985)(615,920)(630,830)(650,770)(665,735)(680,718)(715,700)(740,688)(765,665)(860,665)(870,632)(905,607)(930,590)(1018,590)}
\CURVE{kthin}{(572,985)(590,950)(610,850)(640,760)(655,710)(680,660)(720,630)(735,600)(785,580)(830,535)(890,510)(945,488)(990,470)(1018,452)}
\CURVE{kthick}{(572,985)(590,945)(610,860)(640,780)(650,725)(680,685)(720,645)(765,620)(820,590)(880,565)(915,545)(990,540)(1018,530)}
\TX{946}{770}{5}{HR*}\TX{990}{770}{5}{p-value}
\foreach \y/\st/\ww/\t/\hr/\p in {816/kthin/179/2DS1-positive \& C1\slash C1 or C1\slash C2 (n = 564)/1.00/,863/kthick/182/2DS1-negative \& C1\slash C1 or C1\slash C2 (n = 879)/0.94/.53,908/rthin/138/2DS1-positive \& C2\slash C2 (n = 97)/1.16/.46,955/rthick/144/2DS1-negative \& C2\slash C2 (n = 164)/0.74/.10}{
 \draw[\st] (683,\y) -- (697,\y);
 \pgfmathsetmacro\bb{\y+12}
 \FW{705}{\bb}{5}{\ww}{\t}
 \TX{946}{\y}{5}{\hr}
 \TX{990}{\y}{5}{\p}
}
%% plot 3 curves
\CURVE{cvblue,line width=.9pt,dashed}{(1095,985)(1110,900)(1130,830)(1150,780)(1195,700)(1225,670)(1235,640)(1305,640)(1320,610)(1345,590)(1410,585)(1425,558)(1528,558)}
\CURVE{cvyel,line width=.9pt,dashed}{(1083,985)(1100,960)(1115,890)(1135,810)(1155,740)(1175,695)(1200,650)(1235,625)(1270,600)(1320,590)(1370,580)(1415,535)(1505,533)(1528,518)}
\CURVE{cvblue,line width=.9pt}{(1083,985)(1095,930)(1110,870)(1125,785)(1140,770)(1155,740)(1190,665)(1215,610)(1240,570)(1260,550)(1340,550)(1345,520)(1380,482)(1495,430)(1505,378)(1528,378)}
\CURVE{cvyel,line width=.9pt}{(1083,985)(1100,970)(1115,900)(1135,820)(1155,740)(1175,690)(1200,645)(1235,610)(1270,595)(1310,560)(1345,530)(1405,497)(1455,483)(1505,472)(1528,472)}
\TX{1433}{272}{5}{HR*}\TX{1475}{272}{5}{p-value}
\foreach \y/\st/\ww/\t/\hr/\p in {318/cvblue/209/2DS1+ and C1 \& 3DL1 strong inhibiting (n = 104)/1.00/,365/cvblue/240/2DS1- and\slash or C2\slash C2 \& 3DL1 strong inhibiting (n = 319)/0.84/.43,410/cvyel/229/2DS1+ and C1 \& 3DL1 weak\slash non-inhibiting (n = 457)/0.94/.74,458/cvyel/253/2DS1- and\slash or C2\slash C2 \& 3DL1 weak\slash non-inhibiting (n = 811)/0.89/.56}{
 \draw[\st,line width=1pt] (1090,\y) -- (1100,\y);
 \pgfmathsetmacro\bb{\y+12}
 \FW{1105}{\bb}{5}{\ww}{\t}
 \TX{1435}{\y}{5}{\hr}
 \TX{1479}{\y}{5}{\p}
}
\end{scope}
\end{scope}
%% ---------- conclusions
\draw[mainframe] (57,2500) rectangle (2248,2763);
\FW[text=tblue]{78}{2548}{17}{357}{\bfseries Conclusions \& Outlook}
\JL{84}{2592}{14.6}{1401}{Donor-KIR-gene based classification using information on 2DS1/3DL1 KIRs to predict risk of relapse}
\JL{84}{2629}{14.6}{1401}{could not be replicated in a large cohort of MDS/sAML patients. Impact of donor KIR haplotype using}
\JL{84}{2667}{14.6}{1401}{different classification approaches on the risk of relapse could not be replicated. Differences in transplant}
\JL{84}{2704}{14.6}{1401}{procedures between the original and contemporary cohorts may impact on NK-cell alloreactivity. The}
\FW{84}{2740}{14.6}{736}{clue to predict NK alloreactivity has not yet been found.}
\draw[pan,rounded corners=22pt] (1506,2539) rectangle (2221,2747);
\FW{1524}{2585}{14}{155}{\bfseries Next steps:}
\foreach \y/\b/\ww/\t in {2617/2627/477/Explore more genotype information,2665/2675/609/Create ‘Data Warehouse‘ to speed up research,2712/2722/330/Engage in collaborations}{
 \TX[text=fgreen!70!kg]{1536}{\y}{14}{\dfont ⇨}
 \FW{1575}{\b}{14.6}{\ww}{\t}
}
%% ---------- acknowledgements
\draw[mainframe] (57,2791) rectangle (2248,2933);
\FW[text=tblue]{74}{2833}{17}{308}{\bfseries Acknowledgements}
\JL{74}{2874}{14.6}{2148}{We would like to acknowledge the work of Kathy Hsu (Memorial Sloan-Kettering Cancer Center, New York), Stephen Spellman (NMDP Biorepository) for}
\JL{74}{2914}{14.6}{2136}{Data Management \& Statistics , Linda Koster \& Anja van Biezen (EBMT Leiden Data Office) and Jürgen Sauter \& Alexander Schmidt (DKMS Population Genetics).}
%% ---------- footer logo
\begin{scope}[shift={(30,2940)}]
\begin{scope}[x=0.16667pt,y=-0.16667pt,line cap=round]
\foreach \x/\ya/\yb in {97/145/255,142/125/280,178/105/305}{\draw[cobigreen,line width=4.4pt] (\x,\ya) -- (\x,\yb);}
\draw[cobidark,line width=4.4pt] (100,265) -- (200,215);
\draw[cobidark,line width=4.4pt] (140,287) -- (288,225);
\draw[cobidark,line width=4.4pt] (185,315) -- (290,255);
\draw[cobilight,line width=4.4pt] (195,102) -- (288,150);
\draw[cobilight,line width=4.4pt] (195,158) -- (288,215);
\draw[cobilight,line width=2pt] (108,137) -- (125,130);
\end{scope}
\end{scope}
\FW[text=cobilight]{150}{3026}{27}{80}{CoBi}
\FW[text=cobilight]{150}{3040}{4.6}{80}{COLLABORATIVE}
\FW[text=cobilight]{150}{3050}{4.6}{44}{BIOBANK}
\FW{268}{3024}{14.6}{1060}{\ofont Collaborative Biobank, E-Mail: biobank@dkms.de, Website: www.cobi-biobank.org}
\end{tikzpicture}
\end{document}
